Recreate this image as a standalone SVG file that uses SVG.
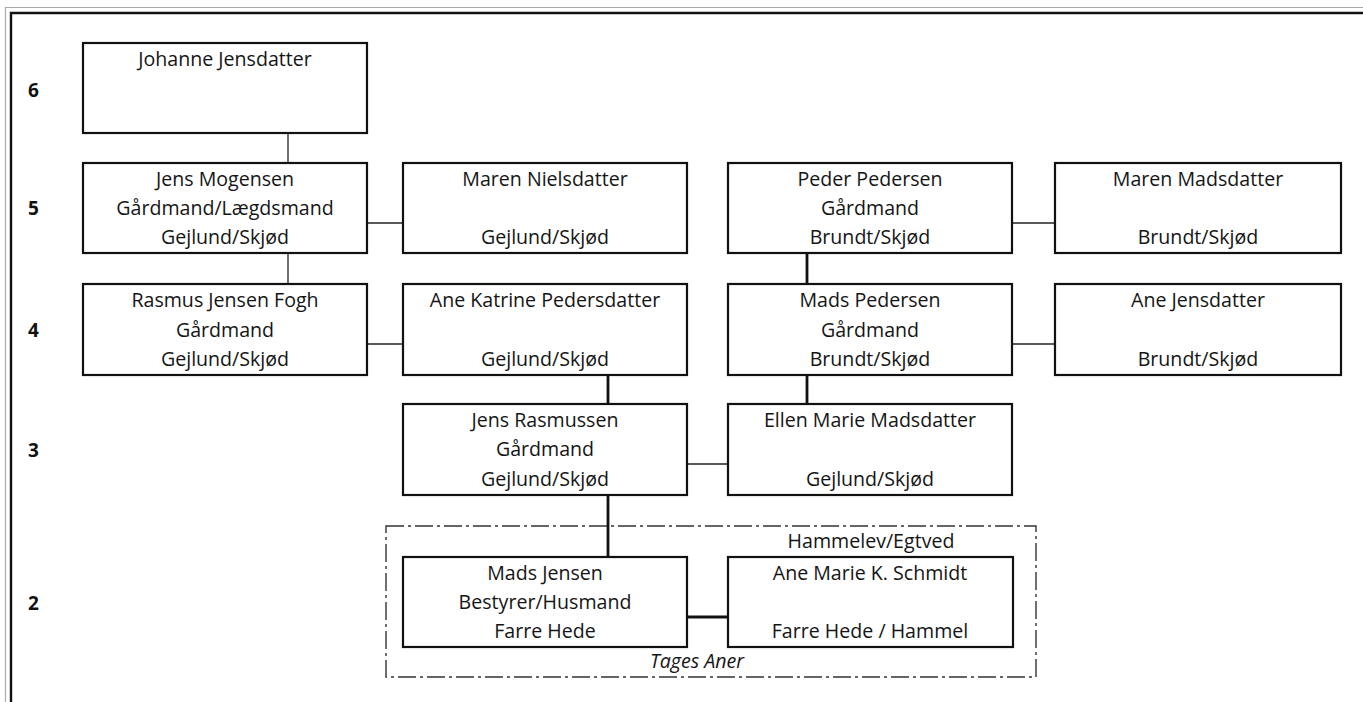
<svg xmlns="http://www.w3.org/2000/svg" width="1363" height="702" viewBox="0 0 1363 702">
<style>
.box{fill:#fff;stroke:#111;stroke-width:2.2}
.t{font-family:"Open Sans","Liberation Sans",sans-serif;font-size:19.6px;fill:#151515;text-anchor:middle}
.gen{font-family:"Open Sans","Liberation Sans",sans-serif;font-size:19px;font-weight:bold;fill:#111}
.thin{stroke:#222;stroke-width:1.3;fill:none}
.thick{stroke:#111;stroke-width:2.8;fill:none}
.dash{stroke:#333;stroke-width:1.4;fill:none;stroke-dasharray:18 4 3 4}
</style>
<rect width="1363" height="702" fill="#fff"/>
<g id="frame">
<path d="M5.5 702 V7.5 H1363" stroke="#aaa" stroke-width="1.2" fill="none"/>
<path d="M11 702 V13 H1363" stroke="#111" stroke-width="2.4" fill="none"/>
</g>
<g id="generations">
<text class="gen" x="28" y="97">6</text>
<text class="gen" x="28" y="215">5</text>
<text class="gen" x="28" y="337">4</text>
<text class="gen" x="28" y="457">3</text>
<text class="gen" x="28" y="610">2</text>
</g>
<g id="connectors">
<line class="thin" x1="288" y1="133" x2="288" y2="163"/>
<line class="thin" x1="288" y1="253" x2="288" y2="284"/>
<line class="thin" x1="367" y1="223" x2="403" y2="223"/>
<line class="thin" x1="1012" y1="223" x2="1055" y2="223"/>
<line class="thin" x1="367" y1="344" x2="403" y2="344"/>
<line class="thin" x1="1012" y1="344" x2="1055" y2="344"/>
<line class="thick" x1="807" y1="253" x2="807" y2="284"/>
<line class="thick" x1="608" y1="375" x2="608" y2="404"/>
<line class="thick" x1="807" y1="375" x2="807" y2="404"/>
<line class="thin" x1="687" y1="464" x2="728" y2="464"/>
<line class="thick" x1="608" y1="495" x2="608" y2="557"/>
<line class="thick" x1="687" y1="617" x2="728" y2="617"/>
</g>
<g id="tages-aner">
<rect class="dash" x="386" y="526" width="650" height="151"/>
<text class="t" x="697" y="668" font-style="italic">Tages Aner</text>
<text class="t" x="871" y="548">Hammelev/Egtved</text>
</g>
<g id="johanne-jensdatter">
<rect class="box" x="83" y="43" width="284" height="90"/>
<text class="t" x="225" y="66">Johanne Jensdatter</text>
</g>
<g id="jens-mogensen">
<rect class="box" x="83" y="163" width="284" height="90"/>
<text class="t" x="225" y="186">Jens Mogensen</text>
<text class="t" x="225" y="215">Gårdmand/Lægdsmand</text>
<text class="t" x="225" y="244">Gejlund/Skjød</text>
</g>
<g id="maren-nielsdatter">
<rect class="box" x="403" y="163" width="284" height="90"/>
<text class="t" x="545" y="186">Maren Nielsdatter</text>
<text class="t" x="545" y="244">Gejlund/Skjød</text>
</g>
<g id="peder-pedersen">
<rect class="box" x="728" y="163" width="284" height="90"/>
<text class="t" x="870" y="186">Peder Pedersen</text>
<text class="t" x="870" y="215">Gårdmand</text>
<text class="t" x="870" y="244">Brundt/Skjød</text>
</g>
<g id="maren-madsdatter">
<rect class="box" x="1055" y="163" width="286" height="90"/>
<text class="t" x="1198" y="186">Maren Madsdatter</text>
<text class="t" x="1198" y="244">Brundt/Skjød</text>
</g>
<g id="rasmus-jensen-fogh">
<rect class="box" x="83" y="284" width="284" height="91"/>
<text class="t" x="225" y="307">Rasmus Jensen Fogh</text>
<text class="t" x="225" y="337">Gårdmand</text>
<text class="t" x="225" y="366">Gejlund/Skjød</text>
</g>
<g id="ane-katrine-pedersdatter">
<rect class="box" x="403" y="284" width="284" height="91"/>
<text class="t" x="545" y="307">Ane Katrine Pedersdatter</text>
<text class="t" x="545" y="366">Gejlund/Skjød</text>
</g>
<g id="mads-pedersen">
<rect class="box" x="728" y="284" width="284" height="91"/>
<text class="t" x="870" y="307">Mads Pedersen</text>
<text class="t" x="870" y="337">Gårdmand</text>
<text class="t" x="870" y="366">Brundt/Skjød</text>
</g>
<g id="ane-jensdatter">
<rect class="box" x="1055" y="284" width="286" height="91"/>
<text class="t" x="1198" y="307">Ane Jensdatter</text>
<text class="t" x="1198" y="366">Brundt/Skjød</text>
</g>
<g id="jens-rasmussen">
<rect class="box" x="403" y="404" width="284" height="91"/>
<text class="t" x="545" y="427">Jens Rasmussen</text>
<text class="t" x="545" y="456">Gårdmand</text>
<text class="t" x="545" y="486">Gejlund/Skjød</text>
</g>
<g id="ellen-marie-madsdatter">
<rect class="box" x="728" y="404" width="284" height="91"/>
<text class="t" x="870" y="427">Ellen Marie Madsdatter</text>
<text class="t" x="870" y="486">Gejlund/Skjød</text>
</g>
<g id="mads-jensen">
<rect class="box" x="403" y="557" width="284" height="90"/>
<text class="t" x="545" y="580">Mads Jensen</text>
<text class="t" x="545" y="609">Bestyrer/Husmand</text>
<text class="t" x="545" y="638">Farre Hede</text>
</g>
<g id="ane-marie-k-schmidt">
<rect class="box" x="728" y="557" width="285" height="90"/>
<text class="t" x="870" y="580">Ane Marie K. Schmidt</text>
<text class="t" x="870" y="638">Farre Hede / Hammel</text>
</g>
</svg>
